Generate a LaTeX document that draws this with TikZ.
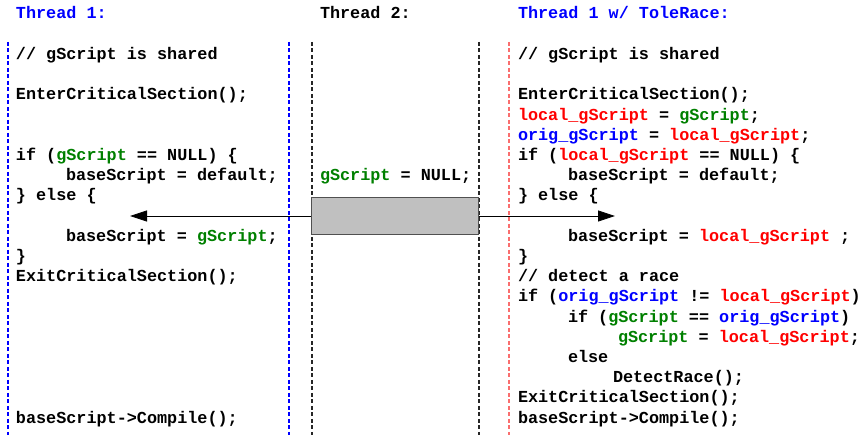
\documentclass[tikz,border=0pt]{standalone}
\usepackage{fontspec}
\setmonofont{Liberation Mono}
\usetikzlibrary{arrows.meta}
\definecolor{kwblue}{RGB}{0,0,255}
\definecolor{kwgreen}{RGB}{0,128,0}
\definecolor{kwred}{RGB}{255,0,0}
\definecolor{sepred}{RGB}{250,110,110}
\definecolor{boxfill}{RGB}{192,192,192}
\definecolor{boxedge}{RGB}{80,80,80}
\newcommand{\codefont}{\ttfamily\bfseries\fontsize{16.8}{20.2}\selectfont}
\newcommand{\gS}{\textcolor{kwgreen}{gScript}}
\newcommand{\lS}{\textcolor{kwred}{local\textunderscore gScript}}
\newcommand{\oS}{\textcolor{kwblue}{orig\textunderscore gScript}}
\tikzset{
  code/.style={anchor=base west, inner sep=0pt, outer sep=0pt, font=\codefont},
  sep/.style={line width=1.1pt, dash pattern=on 4pt off 2.5pt},
  flow/.style={line width=0.8pt, -{Triangle[length=17pt,width=11pt]}}
}
\begin{document}
\begin{tikzpicture}[x=1pt,y=-1pt]
\useasboundingbox (0,0) rectangle (863,435);
% column separators
\draw[sep, kwblue] (8,42) -- (8,435);
\draw[sep, kwblue] (289,42) -- (289,435);
\draw[sep, black!85] (312,42) -- (312,435);
\draw[sep, black!85] (479,42) -- (479,435);
\draw[sep, sepred, line width=1.4pt] (509,42) -- (509,435);
% headings
\node[code, text=kwblue] (h1) at (16,18.5) {Thread 1:};
\node[code] (h2) at (320,18.5) {Thread 2:};
\node[code, text=kwblue] (h3) at (518,18.5) {Thread 1 w/ ToleRace:};
% thread 1
\node[code] (a1) at (16,59.6) {// gScript is shared};
\node[code] (a2) at (16,100) {EnterCriticalSection();};
\node[code] (a3) at (16,160.6) {if (\gS{} == NULL) \{};
\node[code] (a4) at (66,180.8) {baseScript = default;};
\node[code] (a5) at (16,201) {\} else \{};
\node[code] (a6) at (66,241.4) {baseScript = \gS;};
\node[code] (a7) at (16,261.6) {\}};
\node[code] (a8) at (16,281.8) {ExitCriticalSection();};
\node[code] (a9) at (16,423.2) {baseScript->Compile();};
% thread 2
\node[code] (b1) at (320,180.8) {\gS{} = NULL;};
\node[draw=boxedge, fill=boxfill, line width=1.3pt, minimum width=167pt,
      minimum height=37pt, inner sep=0pt] (box) at (395,216) {};
\coordinate (ltip) at (130,216);
\coordinate (rtip) at (615,216);
\draw[flow] (box.west) -- (ltip);
\draw[flow] (box.east) -- (rtip);
% thread 1 with ToleRace
\node[code] (c1) at (518,59.6) {// gScript is shared};
\node[code] (c2) at (518,100) {EnterCriticalSection();};
\node[code] (c3) at (518,120.2) {\lS{} = \gS;};
\node[code] (c4) at (518,140.4) {\oS{} = \lS;};
\node[code] (c5) at (518,160.6) {if (\lS{} == NULL) \{};
\node[code] (c6) at (568,180.8) {baseScript = default;};
\node[code] (c7) at (518,201) {\} else \{};
\node[code] (c8) at (568,241.4) {baseScript = \lS{} ;};
\node[code] (c9) at (518,261.6) {\}};
\node[code] (c10) at (518,281.8) {// detect a race};
\node[code] (c11) at (518,302) {if (\oS{} != \lS)};
\node[code] (c12) at (568,322.2) {if (\gS{} == \oS)};
\node[code] (c13) at (618,342.4) {\gS{} = \lS;};
\node[code] (c14) at (568,362.6) {else};
\node[code] (c15) at (613,382.8) {DetectRace();};
\node[code] (c16) at (518,403) {ExitCriticalSection();};
\node[code] (c17) at (518,423.2) {baseScript->Compile();};
\end{tikzpicture}
\end{document}
